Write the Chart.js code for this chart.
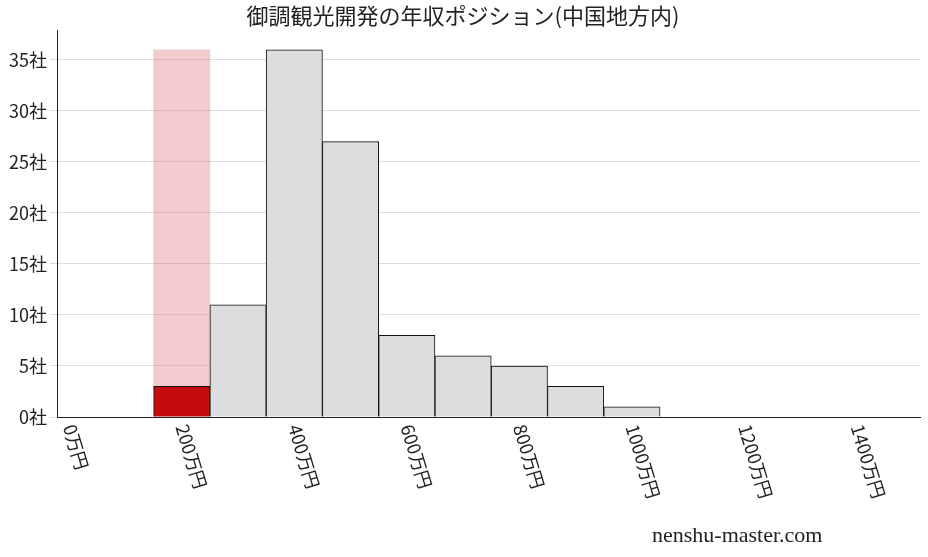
<!DOCTYPE html><html><head><meta charset="utf-8">
<script src="https://cdn.jsdelivr.net/npm/chart.js@4"></script>
<style>body{margin:0;background:#fff}#w{position:relative;width:928px;height:557px}
#wm{position:absolute;left:652px;top:522px;font:22px "Liberation Serif",serif;color:#222}</style></head><body>
<div id="w"><canvas id="c" width="928" height="557"></canvas><div id="wm">nenshu-master.com</div></div>
<script>
const title='御調観光開発の年収ポジション(中国地方内)';
const binCenters=[200,300,400,500,600,700,800,900,1000];
const counts=[3,11,36,27,8,6,5,3,1];
const highlightBin=200;
const highlightHeight=36;
const xTicks=[0,200,400,600,800,1000,1200,1400];
const yTicks=[0,5,10,15,20,25,30,35];
const F='"Noto Sans CJK JP","Noto Sans",sans-serif';
const xLabels={id:'xl',afterDraw(ch){const c=ch.ctx,s=ch.scales.x,b=ch.chartArea.bottom;
 c.save();c.fillStyle='#222';c.font='18px '+F;c.textAlign='left';c.textBaseline='middle';
 xTicks.forEach(v=>{c.save();c.translate(s.getPixelForValue(v),b+8);c.rotate(73*Math.PI/180);c.fillText(v+'万円',0,0);c.restore();});
 c.restore();}};
new Chart(document.getElementById('c'),{type:'bar',plugins:[xLabels],
data:{datasets:[
{data:binCenters.map((x,i)=>({x,y:counts[i]})),backgroundColor:binCenters.map(x=>x===highlightBin?'#c40c0c':'#dcdddf'),borderColor:'#111',borderWidth:1,barPercentage:1,categoryPercentage:1,grouped:false,order:1},
{data:[{x:highlightBin,y:highlightHeight}],backgroundColor:'rgba(220,120,120,0.38)',borderWidth:0,barPercentage:1,categoryPercentage:1,grouped:false,order:2}
]},
options:{responsive:false,animation:false,layout:{padding:{left:6,right:8,top:0,bottom:132}},
plugins:{legend:{display:false},tooltip:{enabled:false},title:{display:true,text:title,color:'#222',font:{family:F,size:22,weight:'normal'},padding:{top:2,bottom:2}}},
scales:{
x:{type:'linear',min:-20,max:1512,offset:false,grid:{display:false},border:{color:'#222'},
 afterBuildTicks:a=>{a.ticks=xTicks.map(v=>({value:v}))},ticks:{display:false}},
y:{min:0,max:37.9,grid:{color:'#ddd'},border:{color:'#222'},
 afterBuildTicks:a=>{a.ticks=yTicks.map(v=>({value:v}))},
 ticks:{color:'#222',font:{family:F,size:18},callback:v=>v+'社'}}}}});
</script></body></html>
